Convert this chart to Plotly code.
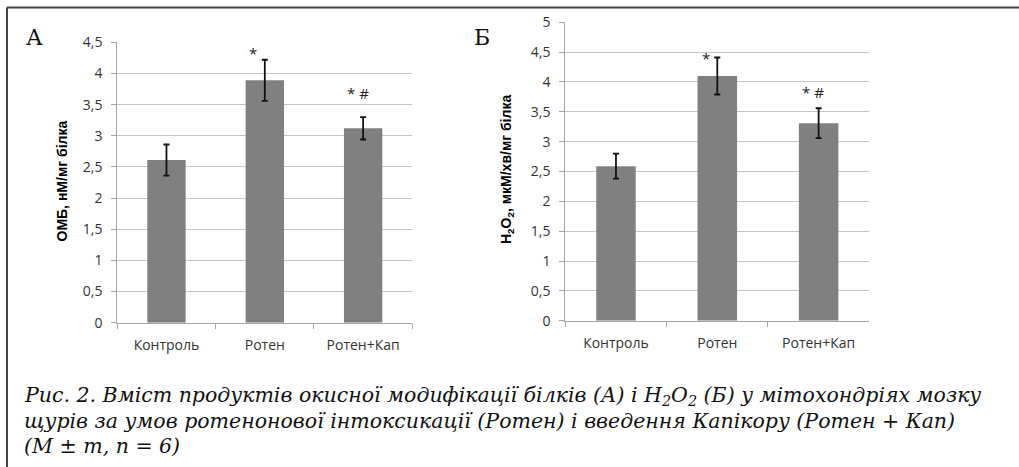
import plotly.graph_objects as go

# ---- data ----
categories = ["Контроль", "Ротен", "Ротен+Кап"]
omb_values = [2.61, 3.89, 3.12]
omb_errors = [0.25, 0.33, 0.18]
h2o2_values = [2.59, 4.10, 3.31]
h2o2_errors = [0.21, 0.31, 0.25]
sig_labels = ["", "*", "* #"]
left_ticks = [0, 0.5, 1, 1.5, 2, 2.5, 3, 3.5, 4, 4.5]
left_ticktext = ["0", "0,5", "1", "1,5", "2", "2,5", "3", "3,5", "4", "4,5"]
right_ticks = [0, 0.5, 1, 1.5, 2, 2.5, 3, 3.5, 4, 4.5, 5]
right_ticktext = ["0", "0,5", "1", "1,5", "2", "2,5", "3", "3,5", "4", "4,5", "5"]
left_title = "ОМБ, нМ/мг білка"
right_title = "H<sub>2</sub>O<sub>2</sub>, мкМ/хв/мг білка"
caption_lines = [
    "Рис. 2. Вміст продуктів окисної модифікації білків (А) і H<sub>2</sub>O<sub>2</sub> (Б) у мітохондріях мозку",
    "щурів за умов ротенонової інтоксикації (Ротен) і введення Капікору (Ротен + Кап)",
    "(M ± m, n = 6)",
]

W, H = 1019, 467
def px(x):
    return x / W
def py(y):
    return 1 - y / H

BAR = "#808080"
GRID = "#c4c4c4"
AX = "#a6a6a6"
TXT = "#333333"
tickfont = dict(family="Open Sans", size=14, color=TXT)

fig = go.Figure()
fig.add_trace(go.Bar(
    x=categories, y=omb_values, marker=dict(color=BAR, line=dict(width=0)),
    error_y=dict(type="data", array=omb_errors, color="#111111", thickness=1.8, width=3),
    xaxis="x", yaxis="y", showlegend=False))
fig.add_trace(go.Bar(
    x=categories, y=h2o2_values, marker=dict(color=BAR, line=dict(width=0)),
    error_y=dict(type="data", array=h2o2_errors, color="#111111", thickness=1.8, width=3),
    xaxis="x2", yaxis="y2", showlegend=False))

xcommon = dict(showline=True, linecolor=AX, linewidth=1, ticks="outside", tickson="boundaries",
               ticklen=5, tickcolor=AX, tickfont=tickfont, ticklabelstandoff=9,
               showgrid=False, zeroline=False, fixedrange=True, automargin=False)
ycommon = dict(showline=True, linecolor=AX, linewidth=1, ticks="outside", ticklen=5,
               tickcolor=AX, tickfont=tickfont, ticklabelstandoff=6, automargin=False,
               showgrid=True, gridcolor=GRID, gridwidth=1, zeroline=False, fixedrange=True)

fig.update_layout(
    width=W, height=H, autosize=False, margin=dict(l=0, r=0, t=0, b=0, pad=0),
    paper_bgcolor="white", plot_bgcolor="white", bargap=0.61,
    xaxis=dict(domain=[px(117.3), px(412.3)], anchor="y", **xcommon),
    yaxis=dict(domain=[py(322.7), py(42.3)], anchor="x", range=[0, 4.5],
               tickvals=left_ticks, ticktext=left_ticktext, **ycommon),
    xaxis2=dict(domain=[px(565.3), px(869.3)], anchor="y2", **xcommon),
    yaxis2=dict(domain=[py(320.7), py(22.3)], anchor="x2", range=[0, 5],
                tickvals=right_ticks, ticktext=right_ticktext, **ycommon),
)

ann = []
# axis titles
ann.append(dict(text="<b>" + left_title + "</b>", x=px(61), y=py(181.5), xref="paper", yref="paper",
                xanchor="center", yanchor="middle",
                textangle=-90, showarrow=False, font=dict(family="Liberation Sans", size=14, color="#000")))
ann.append(dict(text="<b>" + right_title + "</b>", x=px(507), y=py(170), xref="paper", yref="paper",
                xanchor="center", yanchor="middle",
                textangle=-90, showarrow=False, font=dict(family="Liberation Sans", size=14, color="#000")))
# panel letters
ann.append(dict(text="А", x=px(34.5), y=py(38), xref="paper", yref="paper", showarrow=False,
                xanchor="center", yanchor="middle",
                font=dict(family="DejaVu Serif", size=22, color="#111")))
ann.append(dict(text="Б", x=px(481.5), y=py(38), xref="paper", yref="paper", showarrow=False,
                xanchor="center", yanchor="middle",
                font=dict(family="DejaVu Serif", size=22, color="#111")))
# significance marks
left_shift = {1: (-12, 7), 2: (-5, 24)}
right_shift = {1: (-11, 0), 2: (-6, 16)}
for i, lab in enumerate(sig_labels):
    if not lab:
        continue
    dx, dy = left_shift[i]
    ann.append(dict(text=lab, x=categories[i], y=omb_values[i] + omb_errors[i], xref="x", yref="y",
                    xanchor="center", yanchor="middle",
                    xshift=dx, yshift=dy, showarrow=False,
                    font=dict(family="Open Sans", size=15, color="#222")))
    dx, dy = right_shift[i]
    ann.append(dict(text=lab, x=categories[i], y=h2o2_values[i] + h2o2_errors[i], xref="x2", yref="y2",
                    xanchor="center", yanchor="middle",
                    xshift=dx, yshift=dy, showarrow=False,
                    font=dict(family="Open Sans", size=15, color="#222")))
# caption
for line, yc in zip(caption_lines, [396, 421, 446]):
    ann.append(dict(text="<i>" + line + "</i>", x=px(22), y=py(yc), xref="paper", yref="paper",
                    xanchor="left", yanchor="middle", showarrow=False,
                    font=dict(family="DejaVu Serif", size=20.5, color="#111")))
fig.update_layout(annotations=ann)

# frame
fig.add_shape(type="line", xref="paper", yref="paper", x0=px(7), x1=1, y0=py(7.5), y1=py(7.5),
              line=dict(color="#444444", width=2))
fig.add_shape(type="line", xref="paper", yref="paper", x0=px(7), x1=px(7), y0=py(7.5), y1=0,
              line=dict(color="#444444", width=2))

fig.write_html("out.html", config={"displayModeBar": False, "staticPlot": True},
               post_script="document.body.style.margin='0';document.body.style.overflow='hidden';")
